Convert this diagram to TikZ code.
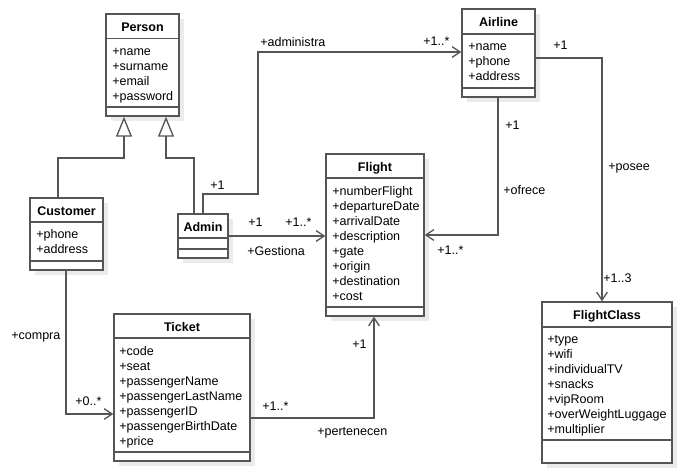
\documentclass[tikz,border=0pt]{standalone}
\usepackage{fontspec}
\setmainfont{Liberation Sans}
\usetikzlibrary{arrows.meta,fit,shadows}
\definecolor{linegray}{HTML}{555555}
\definecolor{shadowgray}{HTML}{EBEBEB}
\newcommand\umlclass[7]{%
  \node[classbox, fit={(#2,#3) (#4,#5)}] (#1) {};
  \draw[boxline] (#2,#6) -- (#4,#6) (#2,#7) -- (#4,#7);}
\newcommand\attrs[4]{%
  \foreach \t [count=\i from 0] in {#4} \node[attr] (#1-\i) at (#2, #3+15*\i) {\t};}
\begin{document}
\begin{tikzpicture}[x=0.75pt,y=-0.75pt,
  boxline/.style={draw=linegray, line width=1pt},
  classbox/.style={boxline, fill=white, inner sep=0pt,
    drop shadow={shadow xshift=4pt, shadow yshift=-4pt, fill=shadowgray, opacity=1}},
  title/.style={font=\bfseries\fontsize{9.4}{11}\selectfont, inner sep=0pt, anchor=mid, yshift=-1.1pt},
  attr/.style={font=\fontsize{9.4}{11}\selectfont, inner sep=0pt, anchor=mid west, yshift=-1.1pt},
  lbl/.style={attr},
  conn/.style={draw=linegray, line width=1pt},
  assoc/.style={conn, -{Straight Barb[length=6pt,width=8pt]}},
  gen/.style={conn, -{Triangle[open, length=15pt, width=12pt, fill=white]}}]
\useasboundingbox (0,0) rectangle (682,474);

% classes
\umlclass{person}{106}{14}{179}{116}{38.7}{107}
\node[title] (person-t) at (142.5,27) {Person};
\attrs{person}{112}{51}{+name,+surname,+email,+password}

\umlclass{customer}{30}{198}{103}{270}{222}{261}
\node[title] (customer-t) at (66.5,211) {Customer};
\attrs{customer}{36}{234}{+phone,+address}

\umlclass{admin}{178}{214}{228}{258}{238}{249}
\node[title] (admin-t) at (203,227) {Admin};

\umlclass{airline}{462}{9}{535}{97}{34}{88}
\node[title] (airline-t) at (498.5,22) {Airline};
\attrs{airline}{468}{46}{+name,+phone,+address}

\umlclass{flight}{326}{154}{424}{316}{178}{307}
\node[title] (flight-t) at (375,167) {Flight};
\attrs{flight}{332}{191}{+numberFlight,+departureDate,+arrivalDate,+description,+gate,+origin,+destination,+cost}

\umlclass{ticket}{114}{314}{250}{461}{338}{452}
\node[title] (ticket-t) at (182,327) {Ticket};
\attrs{ticket}{119}{351}{+code,+seat,+passengerName,+passengerLastName,+passengerID,+passengerBirthDate,+price}

\umlclass{flightclass}{542}{302}{672}{463}{327}{440}
\node[title] (flightclass-t) at (607,315) {FlightClass};
\attrs{flightclass}{547}{339}{+type,+wifi,+individualTV,+snacks,+vipRoom,+overWeightLuggage,+multiplier}

% generalizations
\coordinate (c1) at (58,158); \coordinate (c2) at (124,158);
\draw[gen] (customer.north -| c1) -- (c1) -- (c2) -- (person.south -| c2);
\coordinate (a1) at (194,158); \coordinate (a2) at (166,158);
\draw[gen] (admin.north -| a1) -- (a1) -- (a2) -- (person.south -| a2);

% associations
\coordinate (b1) at (203,194); \coordinate (b2) at (258,194); \coordinate (b3) at (258,52);
\draw[assoc] (admin.north) -- (b1) -- (b2) -- (b3) -- (airline.west |- b3);
\coordinate (d1) at (300,236);
\draw[assoc] (admin.east |- d1) -- (flight.west |- d1);
\coordinate (e1) at (498,235);
\draw[assoc] (airline.south -| e1) -- (e1) -- (flight.east |- e1);
\coordinate (f1) at (602,58);
\draw[assoc] (airline.east |- f1) -- (f1) -- (flightclass.north -| f1);
\coordinate (h1) at (66,414);
\draw[assoc] (customer.south -| h1) -- (h1) -- (ticket.west |- h1);
\coordinate (k1) at (374,418);
\draw[assoc] (ticket.east |- k1) -- (k1) -- (flight.south -| k1);

% labels
\node[lbl] (l-adm) at (260,42) {+administra};
\node[lbl] (l-adm1) at (210,185) {+1};
\node[lbl] (l-adm2) at (423,41) {+1..*};
\node[lbl] (l-pos1) at (553,45) {+1};
\node[lbl] (l-ofr1) at (505,125) {+1};
\node[lbl] (l-ofr) at (503,190) {+ofrece};
\node[lbl] (l-pos) at (608,166) {+posee};
\node[lbl] (l-ofr2) at (437,250) {+1..*};
\node[lbl] (l-pos2) at (603,278) {+1..3};
\node[lbl] (l-ges1) at (248,222) {+1};
\node[lbl] (l-ges2) at (285,222) {+1..*};
\node[lbl] (l-ges) at (247,251) {+Gestiona};
\node[lbl] (l-com) at (11,335) {+compra};
\node[lbl] (l-com2) at (75,401) {+0..*};
\node[lbl] (l-per2) at (262,406) {+1..*};
\node[lbl] (l-per1) at (352,344) {+1};
\node[lbl] (l-per) at (317,431) {+pertenecen};
\end{tikzpicture}
\end{document}
